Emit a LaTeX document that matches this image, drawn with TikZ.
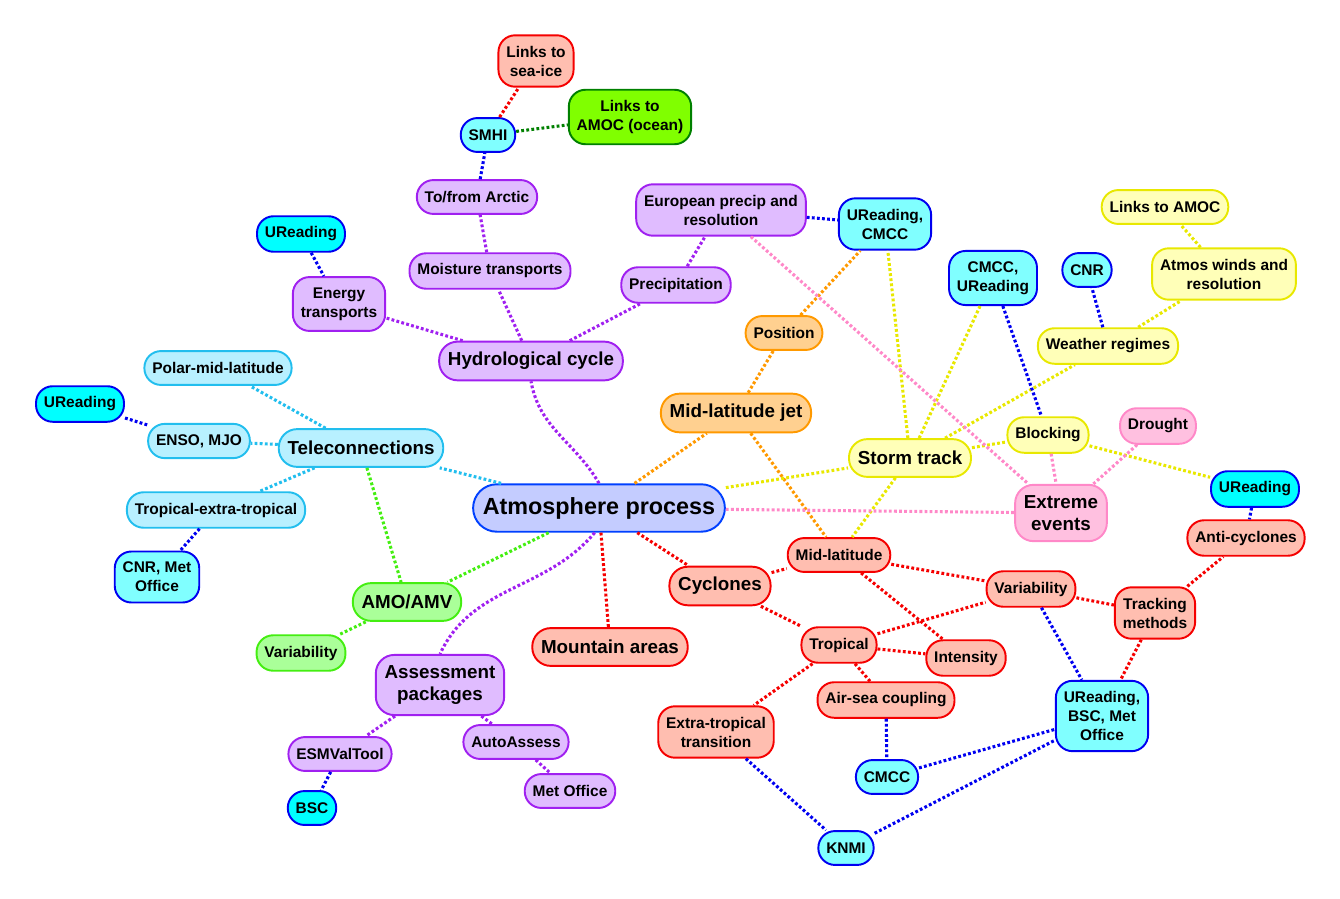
\documentclass[tikz,border=0pt]{standalone}
\usepackage{fontspec}
\setmainfont{Liberation Sans}
\definecolor{cAtm}{RGB}{196,204,255}\definecolor{cAtmB}{RGB}{0,64,255}
\definecolor{cPur}{RGB}{224,188,255}\definecolor{cPurB}{RGB}{160,32,240}
\definecolor{cCya}{RGB}{128,255,255}\definecolor{cCyb}{RGB}{0,255,255}\definecolor{cBlu}{RGB}{0,0,240}
\definecolor{cTel}{RGB}{184,240,255}\definecolor{cTelB}{RGB}{34,190,238}
\definecolor{cRed}{RGB}{255,190,176}\definecolor{cRedB}{RGB}{245,0,0}
\definecolor{cOrg}{RGB}{255,208,144}\definecolor{cOrgB}{RGB}{255,153,0}
\definecolor{cYel}{RGB}{255,255,184}\definecolor{cYelB}{RGB}{232,232,0}
\definecolor{cPnk}{RGB}{255,192,224}\definecolor{cPnkB}{RGB}{255,136,200}
\definecolor{cGrn}{RGB}{170,255,153}\definecolor{cGrnB}{RGB}{68,238,17}
\definecolor{cLim}{RGB}{128,255,0}\definecolor{cDkG}{RGB}{0,128,0}
\begin{document}
\begin{tikzpicture}[x=0.02cm,y=-0.02cm,
  box/.style={draw,rounded corners=9.5pt,line width=1.1pt,align=center,inner xsep=4.5pt,inner ysep=6pt,
    minimum height=19.3pt,font=\fontsize{8.8}{10.8}\selectfont\bfseries},
  mid/.style={rounded corners=10.5pt,inner xsep=5pt,minimum height=21.5pt,font=\fontsize{10.7}{12.6}\selectfont\bfseries},
  big/.style={rounded corners=13.5pt,inner xsep=5.5pt,minimum height=27pt,font=\fontsize{13.3}{15}\selectfont\bfseries},
  atm/.style={box,big,draw=cAtmB,fill=cAtm},
  pu/.style={box,draw=cPurB,fill=cPur},
  ci/.style={box,draw=cBlu,fill=cCya},
  cb/.style={box,draw=cBlu,fill=cCyb},
  te/.style={box,draw=cTelB,fill=cTel},
  rd/.style={box,draw=cRedB,fill=cRed},
  og/.style={box,draw=cOrgB,fill=cOrg},
  ye/.style={box,draw=cYelB,fill=cYel},
  pk/.style={box,draw=cPnkB,fill=cPnk},
  gr/.style={box,draw=cGrnB,fill=cGrn},
  lk/.style={draw=#1,line width=1.75pt,dash pattern=on 1.6pt off 1.3pt}]
\useasboundingbox (0,0) rectangle (1340,899);
\node[atm] (atm) at (599,508) {Atmosphere process};
\node[pu,mid] (hydro) at (531,361) {Hydrological cycle};
\node[pu] (energy) at (339,304) {Energy\\transports};
\node[cb] (urTL) at (301,234) {UReading};
\node[pu] (moist) at (490,271) {Moisture transports};
\node[pu] (arctic) at (477,197) {To/from Arctic};
\node[ci] (smhi) at (488,135) {SMHI};
\node[rd] (seaice) at (536,61) {Links to\\sea-ice};
\node[box,draw=cDkG,fill=cLim] (amocO) at (630,117) {Links to\\AMOC (ocean)};
\node[pu] (precip) at (676,285) {Precipitation};
\node[pu] (europ) at (721,210) {European precip and\\resolution};
\node[ci] (urcmcc) at (885,224) {UReading,\\CMCC};
\node[og] (position) at (784,333) {Position};
\node[og,mid] (jet) at (736,413) {Mid-latitude jet};
\node[ye,mid] (storm) at (910,458) {Storm track};
\node[ci] (cmccur) at (993,278) {CMCC,\\UReading};
\node[ci] (cnr) at (1087,270) {CNR};
\node[ye] (weather) at (1108,346) {Weather regimes};
\node[ye] (atmosw) at (1224,274) {Atmos winds and\\resolution};
\node[ye] (amocL) at (1165,207) {Links to AMOC};
\node[ye] (blocking) at (1048,435) {Blocking};
\node[pk] (drought) at (1158,426) {Drought};
\node[pk,mid] (extreme) at (1061,513) {Extreme\\events};
\node[cb] (urR) at (1255,489) {UReading};
\node[rd] (anticyc) at (1246,538) {Anti-cyclones};
\node[rd] (tracking) at (1155,613) {Tracking\\methods};
\node[rd] (variab) at (1031,589) {Variability};
\node[ci] (ubm) at (1102,716) {UReading,\\BSC, Met\\Office};
\node[rd] (midlat) at (839,555) {Mid-latitude};
\node[rd,mid] (cyclones) at (720,586) {Cyclones};
\node[rd] (tropical) at (839,645) {Tropical};
\node[rd] (intensity) at (966,658) {Intensity};
\node[rd] (airsea) at (886,700) {Air-sea coupling};
\node[rd] (extrop) at (716,732) {Extra-tropical\\transition};
\node[ci] (cmcc) at (887,777) {CMCC};
\node[ci] (knmi) at (846,848) {KNMI};
\node[rd,mid] (mountain) at (610,647) {Mountain areas};
\node[te,mid] (tele) at (361,448) {Teleconnections};
\node[te] (polar) at (218,368) {Polar-mid-latitude};
\node[te] (enso) at (199,441) {ENSO, MJO};
\node[cb] (urL) at (80,404) {UReading};
\node[te] (tropext) at (216,510) {Tropical-extra-tropical};
\node[ci] (cnrmet) at (157,577) {CNR, Met\\Office};
\node[gr,mid] (amo) at (407,602) {AMO/AMV};
\node[gr] (variabL) at (301,653) {Variability};
\node[pu,mid] (assess) at (440,685) {Assessment\\packages};
\node[pu] (esmval) at (340,754) {ESMValTool};
\node[pu] (autoa) at (516,742) {AutoAssess};
\node[pu] (metoff) at (570,791) {Met Office};
\node[cb] (bsc) at (312,808) {BSC};
\draw[lk=cPurB] (atm.north) to[out=120,in=-80] (hydro.south);
\draw[lk=cPurB] (atm.-100) to[out=-130,in=65] (assess.north);
\foreach \a/\b in {hydro/energy,hydro/moist,hydro/precip,moist/arctic,precip/europ,assess/esmval,assess/autoa,autoa/metoff}
  \draw[lk=cPurB] (\a) -- (\b);
\foreach \a/\b in {atm/tele,tele/polar,tele/enso,tele/tropext}
  \draw[lk=cTelB] (\a) -- (\b);
\foreach \a/\b in {tele/amo,atm/amo,amo/variabL}
  \draw[lk=cGrnB] (\a) -- (\b);
\foreach \a/\b in {atm/jet,jet/position,position/urcmcc,jet/midlat}
  \draw[lk=cOrgB] (\a) -- (\b);
\foreach \a/\b in {atm/storm,storm/urcmcc,storm/cmccur,storm/weather,storm/blocking,storm/midlat,weather/atmosw,atmosw/amocL,blocking/urR}
  \draw[lk=cYelB] (\a) -- (\b);
\foreach \a/\b in {atm/extreme,europ/extreme,blocking/extreme,drought/extreme}
  \draw[lk=cPnkB] (\a) -- (\b);
\foreach \a/\b in {atm/cyclones,atm/mountain,cyclones/midlat,cyclones/tropical,midlat/variab,midlat/intensity,tropical/variab,tropical/intensity,tropical/airsea,tropical/extrop,variab/tracking,tracking/anticyc,tracking/ubm,smhi/seaice}
  \draw[lk=cRedB] (\a) -- (\b);
\foreach \a/\b in {urTL/energy,arctic/smhi,europ/urcmcc,weather/cnr,cmccur/blocking,urR/anticyc,variab/ubm,airsea/cmcc,cmcc/ubm,extrop/knmi,knmi/ubm,enso/urL,tropext/cnrmet,esmval/bsc}
  \draw[lk=cBlu] (\a) -- (\b);
\draw[lk=cDkG] (smhi) -- (amocO);
\end{tikzpicture}
\end{document}
